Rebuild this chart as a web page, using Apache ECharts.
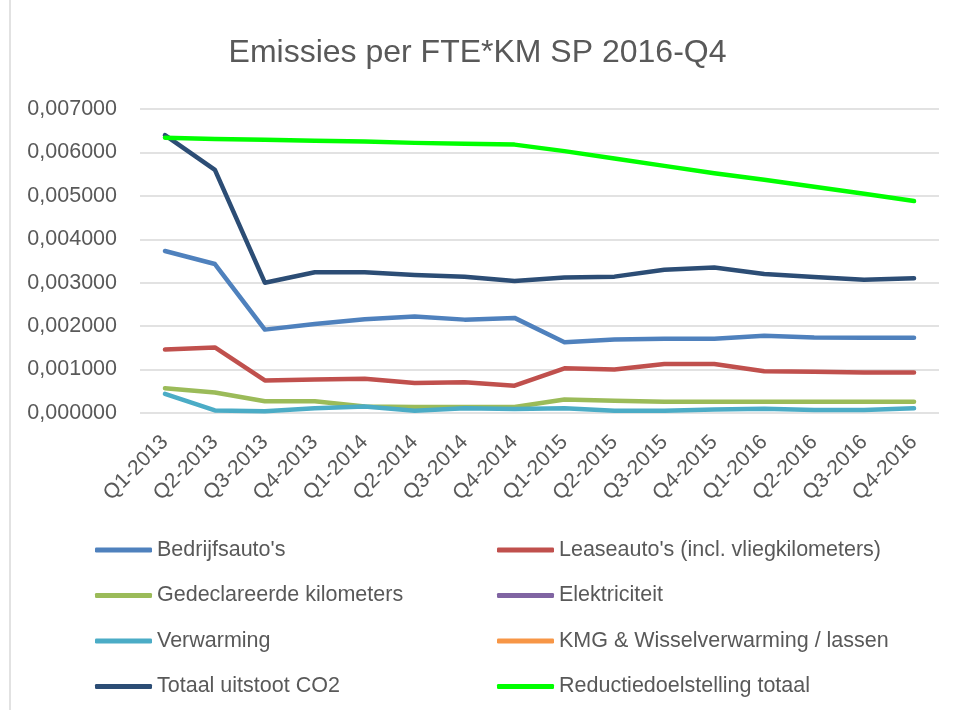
<!DOCTYPE html>
<html>
<head>
<meta charset="utf-8">
<title>Emissies per FTE*KM SP 2016-Q4</title>
<script src="https://cdn.jsdelivr.net/npm/echarts@6/dist/echarts.min.js"></script>
<style>
  html, body { margin: 0; padding: 0; background: #fff; }
  #chart { width: 955px; height: 710px; }
</style>
</head>
<body>
<div id="chart"></div>
<script>
const quarters = ["Q1-2013", "Q2-2013", "Q3-2013", "Q4-2013", "Q1-2014", "Q2-2014", "Q3-2014", "Q4-2014",
  "Q1-2015", "Q2-2015", "Q3-2015", "Q4-2015", "Q1-2016", "Q2-2016", "Q3-2016", "Q4-2016"];

const bedrijfsautos = [0.00373, 0.00343, 0.00192, 0.00205, 0.00216, 0.00222, 0.00215, 0.00219,
  0.00163, 0.00169, 0.00171, 0.00171, 0.00178, 0.00174, 0.00173, 0.00173];
const leaseautos = [0.00146, 0.00151, 0.00075, 0.00077, 0.00079, 0.00069, 0.00071, 0.00063,
  0.00103, 0.00100, 0.00113, 0.00113, 0.00096, 0.00095, 0.00093, 0.00093];
const gedeclareerd = [0.00057, 0.00047, 0.00027, 0.00027, 0.00015, 0.00014, 0.00014, 0.00014,
  0.00031, 0.00028, 0.00026, 0.00026, 0.00026, 0.00026, 0.00026, 0.00026];
const elektriciteit = [null, null, null, null, null, null, null, null, null, null, null, null, null, null, null, null];
const verwarming = [0.00044, 0.00006, 0.00004, 0.00011, 0.00015, 0.00005, 0.00011, 0.00009,
  0.00011, 0.00005, 0.00005, 0.00008, 0.00010, 0.00007, 0.00007, 0.00011];
const kmgWissel = [null, null, null, null, null, null, null, null, null, null, null, null, null, null, null, null];
const totaalCO2 = [0.00640, 0.00560, 0.00300, 0.00324, 0.00324, 0.00318, 0.00314, 0.00304,
  0.00312, 0.00314, 0.00330, 0.00335, 0.00320, 0.00313, 0.00307, 0.00310];
const reductieDoel = [0.00634, 0.00631, 0.00629, 0.00627, 0.00625, 0.00622, 0.00620, 0.00618,
  0.00603, 0.00586, 0.00569, 0.00552, 0.00537, 0.00521, 0.00505, 0.00488];

const yTicks = [0, 0.001, 0.002, 0.003, 0.004, 0.005, 0.006, 0.007];

const names = ["Bedrijfsauto's", "Leaseauto's (incl. vliegkilometers)", "Gedeclareerde kilometers", "Elektriciteit",
  "Verwarming", "KMG & Wisselverwarming / lassen", "Totaal uitstoot CO2", "Reductiedoelstelling totaal"];
const colors = ["#4F81BD", "#C0504D", "#9BBB59", "#8064A2", "#4BACC6", "#F79646", "#2C4D75", "#00FF00"];
const values = [bedrijfsautos, leaseautos, gedeclareerd, elektriciteit, verwarming, kmgWissel, totaalCO2, reductieDoel];

const textColor = "#595959";
const fontFamily = "'Liberation Sans', Arial, sans-serif";

let chart = echarts.init(document.getElementById("chart"));

let legendBase = {
  orient: "vertical",
  top: 534,
  itemWidth: 57,
  itemHeight: 5,
  itemGap: 23.5,
  icon: "roundRect",
  textStyle: { color: textColor, fontSize: 21.5, lineHeight: 22, fontFamily: fontFamily }
};

let option = {
  backgroundColor: "#fff",
  color: colors,
  animation: false,
  title: {
    text: "Emissies per FTE*KM SP 2016-Q4",
    left: "center",
    top: 32,
    textStyle: { color: textColor, fontSize: 32, fontWeight: "normal", fontFamily: fontFamily }
  },
  legend: [
    Object.assign({}, legendBase, { left: 90, data: [names[0], names[2], names[4], names[6]] }),
    Object.assign({}, legendBase, { left: 492, data: [names[1], names[3], names[5], names[7]] })
  ],
  grid: { left: 140, right: 16, top: 109, bottom: 297 },
  xAxis: {
    type: "category",
    data: quarters,
    boundaryGap: true,
    axisLine: { show: false },
    axisTick: { show: false },
    axisLabel: {
      rotate: 45,
      margin: 26,
      interval: 0,
      color: textColor,
      fontSize: 21,
      fontFamily: fontFamily
    }
  },
  yAxis: {
    type: "value",
    min: yTicks[0],
    max: yTicks[yTicks.length - 1],
    interval: 0.001,
    axisLine: { show: false },
    axisTick: { show: false },
    splitLine: { lineStyle: { color: "#d9d9d9", width: 1.5 } },
    axisLabel: {
      margin: 23,
      color: textColor,
      fontSize: 21.5,
      fontFamily: fontFamily,
      formatter: function (v) {
        return v.toFixed(6).replace(".", ",");
      }
    }
  },
  graphic: [
    {
      type: "line",
      shape: { x1: 10, y1: 0, x2: 10, y2: 710 },
      style: { stroke: "#d9d9d9", lineWidth: 1.5 }
    }
  ],
  series: names.map(function (name, i) {
    return {
      name: name,
      type: "line",
      data: values[i],
      symbol: "none",
      lineStyle: { width: 4.5, cap: "round", join: "round", color: colors[i] }
    };
  })
};

chart.setOption(option);
</script>
</body>
</html>
